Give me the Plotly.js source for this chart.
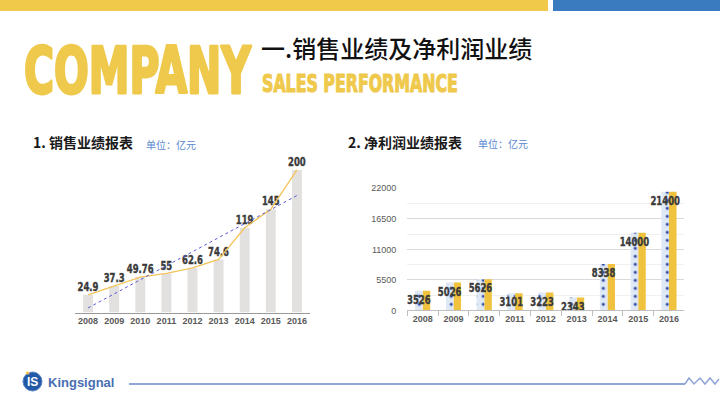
<!DOCTYPE html>
<html>
<head>
<meta charset="utf-8">
<script src="https://cdn.plot.ly/plotly-3.0.1.min.js"></script>
<style>
html,body{margin:0;padding:0;background:#fff;}
#chart{width:720px;height:405px;}
</style>
</head>
<body>
<div id="chart"></div>
<script>
// ---- data ----
const years = ['2008','2009','2010','2011','2012','2013','2014','2015','2016'];
const sales = [24.9, 37.3, 49.76, 55, 62.6, 74.6, 119, 145, 200];
const salesLabels = ['24.9','37.3','49.76','55','62.6','74.6','119','145','200'];
const profit = [3526, 5026, 5626, 3101, 3223, 2343, 8338, 14000, 21400];
const profitLabels = ['3526','5026','5626','3101','3223','2343','8338','14000','21400'];
const profitTicks = [0, 5500, 11000, 16500, 22000];

// linear trend line (least squares over the sales series)
const n = sales.length;
const xm = (n - 1) / 2;
const ym = sales.reduce((a, b) => a + b, 0) / n;
let sxy = 0, sxx = 0;
sales.forEach((v, i) => { sxy += (i - xm) * (v - ym); sxx += (i - xm) * (i - xm); });
const slope = sxy / sxx;
const trend = sales.map((v, i) => ym + slope * (i - xm));

// ---- helpers for page positions ----
const W = 720, H = 405;
const px = x => x / W;
const py = y => 1 - y / H;

const NARROW = 'Liberation Sans Narrow, DejaVu Sans Condensed, Arial Narrow, sans-serif';
const CJK = 'Noto Sans CJK SC, Noto Sans, sans-serif';
const SANS = 'Liberation Sans, Arial, sans-serif';

// measure a condensed bold font so text can be sized to a width, then stretched to a cap height
const ctx = document.createElement('canvas').getContext('2d');
function fitFont(sample, targetW, targetCap) {
  ctx.font = 'bold 100px ' + NARROW;
  const m = ctx.measureText(sample);
  const size = 100 * targetW / m.width;
  const cap = (m.actualBoundingBoxAscent || 72) * size / 100;
  return {size: size, k: targetCap / cap};
}
const fCompany = fitFont('COMPANY', 227, 48);
const fSales = fitFont('SALES PERFORMANCE', 196, 18);
const fLabel = fitFont('0', 5.9, 9.5);

const labelFont = {family: NARROW, size: fLabel.size, color: '#3a3a3a', weight: 'bold'};

const traces = [
  // left: sales bars
  {
    type: 'bar', x: years, y: sales, xaxis: 'x', yaxis: 'y',
    width: 0.38,
    marker: {color: '#e3e0e0', line: {width: 0}},
    text: salesLabels, textposition: 'outside', cliponaxis: false,
    constraintext: 'none', textangle: 0,
    outsidetextfont: labelFont,
    hoverinfo: 'skip'
  },
  {
    type: 'scatter', mode: 'lines', x: years, y: sales, xaxis: 'x', yaxis: 'y',
    line: {color: '#f4c45a', width: 1.3}, hoverinfo: 'skip'
  },
  {
    type: 'scatter', mode: 'lines', x: years, y: trend, xaxis: 'x', yaxis: 'y',
    line: {color: '#5a5ad6', width: 1, dash: 'dot'}, hoverinfo: 'skip'
  },
  // right: profit bars (yellow first so the labels of the dotted bars sit on top)
  {
    type: 'bar', x: years, y: profit, xaxis: 'x2', yaxis: 'y2',
    width: 0.245, offset: 0,
    marker: {color: '#f0c23e', line: {width: 0}},
    hoverinfo: 'skip'
  },
  {
    type: 'bar', x: years, y: profit, xaxis: 'x2', yaxis: 'y2',
    width: 0.245, offset: -0.245,
    marker: {
      color: '#dfe9f5', line: {width: 0},
      pattern: {shape: '.', fillmode: 'replace', bgcolor: '#dfe9f5', fgcolor: '#2b46a6', size: 8, solidity: 0.12}
    },
    text: profitLabels, textposition: 'inside', insidetextanchor: 'end',
    constraintext: 'none', textangle: 0,
    insidetextfont: labelFont,
    hoverinfo: 'skip'
  }
];

const annotations = [
  {text: 'COMPANY', x: px(24), y: py(71), xanchor: 'left', yanchor: 'middle', align: 'left',
   font: {family: NARROW, size: fCompany.size, color: '#efc94c', weight: 'bold'}},
  {text: 'SALES PERFORMANCE', x: px(262), y: py(84), xanchor: 'left', yanchor: 'middle', align: 'left',
   font: {family: NARROW, size: fSales.size, color: '#efc94c', weight: 'bold'}},
  {text: '一.销售业绩及净利润业绩', x: px(261), y: py(47.5), xanchor: 'left', yanchor: 'middle', align: 'left',
   font: {family: CJK, size: 24, color: '#111111', weight: 500}},
  {text: '1. 销售业绩报表', x: px(33), y: py(142), xanchor: 'left', yanchor: 'middle', align: 'left',
   font: {family: CJK, size: 14, color: '#1a1a1a', weight: 'bold'}},
  {text: '单位：亿元', x: px(146), y: py(144), xanchor: 'left', yanchor: 'middle', align: 'left',
   font: {family: CJK, size: 10, color: '#5b8ad0'}},
  {text: '2. 净利润业绩报表', x: px(348), y: py(142), xanchor: 'left', yanchor: 'middle', align: 'left',
   font: {family: CJK, size: 14, color: '#1a1a1a', weight: 'bold'}},
  {text: '单位：亿元', x: px(478), y: py(143), xanchor: 'left', yanchor: 'middle', align: 'left',
   font: {family: CJK, size: 10, color: '#5b8ad0'}},
  {text: 'Kingsignal', x: px(48), y: py(382), xanchor: 'left', yanchor: 'middle', align: 'left',
   font: {family: SANS, size: 13, color: '#4a6fb3', weight: 'bold'}},
  {text: 'IS', x: px(32.5), y: py(381.5), xanchor: 'center', yanchor: 'middle',
   font: {family: SANS, size: 12, color: '#ffffff', weight: 'bold'}},
  {text: '★', x: px(27), y: py(372), xanchor: 'center', yanchor: 'middle',
   font: {family: 'DejaVu Sans, sans-serif', size: 6, color: '#f3c43a'}}
].map(a => Object.assign({xref: 'paper', yref: 'paper', showarrow: false, borderpad: 0, borderwidth: 0}, a));

const zig = [[685,384],[689,378],[694,384],[700,378],[705,384],[710,378],[715,384],[719,379]];
const zigPath = 'M ' + zig.map(p => px(p[0]) + ',' + py(p[1])).join(' L ');

const shapes = [
  {type: 'rect', xref: 'paper', yref: 'paper', x0: 0, x1: px(548), y0: py(11), y1: 1,
   fillcolor: '#f0c94b', line: {width: 0}, layer: 'below'},
  {type: 'rect', xref: 'paper', yref: 'paper', x0: px(553), x1: 1, y0: py(11), y1: 1,
   fillcolor: '#3a7bc0', line: {width: 0}, layer: 'below'},
  {type: 'line', xref: 'paper', yref: 'paper', x0: px(129), x1: px(685), y0: py(384), y1: py(384),
   line: {color: '#8ea5d6', width: 2}},
  {type: 'path', xref: 'paper', yref: 'paper', path: zigPath,
   line: {color: '#8ea5d6', width: 1.5}},
  {type: 'circle', xref: 'paper', yref: 'paper', x0: px(23), x1: px(42), y0: py(391), y1: py(372),
   fillcolor: '#2259a6', line: {color: '#5b86c6', width: 1}}
];

const tickFontBold = {family: SANS, size: 9, color: '#595959', weight: 'bold'};

const layout = {
  width: W, height: H,
  margin: {l: 0, r: 0, t: 0, b: 0, pad: 0},
  paper_bgcolor: '#ffffff', plot_bgcolor: 'rgba(0,0,0,0)',
  showlegend: false, barmode: 'overlay',
  xaxis: {
    domain: [px(75), px(310)], anchor: 'y', type: 'category',
    showline: true, linecolor: '#9a9a9a', linewidth: 1,
    ticks: '', showgrid: false, zeroline: false,
    tickfont: tickFontBold, fixedrange: true
  },
  yaxis: {
    domain: [py(312.6), py(155.7)], anchor: 'x', range: [0, 220],
    visible: false, showgrid: false, zeroline: false, fixedrange: true
  },
  xaxis2: {
    domain: [px(407.3), px(684.4)], anchor: 'y2', type: 'category',
    showline: true, linecolor: '#bfbfbf', linewidth: 1,
    ticks: 'outside', tickson: 'boundaries', ticklen: 5, tickcolor: '#bfbfbf',
    showgrid: false, zeroline: false,
    tickfont: tickFontBold, fixedrange: true
  },
  yaxis2: {
    domain: [py(310.4), py(188.3)], anchor: 'x2', range: [0, 22000],
    tickmode: 'array', tickvals: profitTicks, ticktext: profitTicks.map(String),
    showgrid: true, gridcolor: '#d9d9d9', gridwidth: 1,
    minor: {dtick: 2750, tick0: 0, showgrid: true, gridcolor: '#f0f0f0', gridwidth: 1},
    zeroline: false, showline: false, ticks: '', ticklabelstandoff: 10,
    tickfont: {family: SANS, size: 9, color: '#595959'}, fixedrange: true
  },
  annotations: annotations,
  shapes: shapes
};

// stretch a text element vertically about its own centre (Impact-like tall letters)
function stretchY(t, k) {
  const b = t.getBBox();
  const cy = b.y + b.height / 2;
  const prev = t.getAttribute('transform') || '';
  t.setAttribute('transform', prev + ' translate(0,' + cy + ') scale(1,' + k + ') translate(0,' + (-cy) + ')');
}

Plotly.newPlot('chart', traces, layout, {displayModeBar: false, staticPlot: true}).then(() => {
  const fit = {'COMPANY': {k: fCompany.k, sw: 2}, 'SALES PERFORMANCE': {k: fSales.k, sw: 0.8}};
  document.querySelectorAll('.annotation-text').forEach(t => {
    const f = fit[t.textContent];
    if (!f) return;
    stretchY(t, f.k);
    t.style.stroke = '#efc94c';
    t.style.strokeWidth = f.sw + 'px';
    t.style.strokeLinejoin = 'round';
  });
  document.querySelectorAll('.bartext').forEach(t => {
    stretchY(t, fLabel.k);
    t.style.stroke = '#3a3a3a';
    t.style.strokeWidth = '0.3px';
  });
});
</script>
</body>
</html>
